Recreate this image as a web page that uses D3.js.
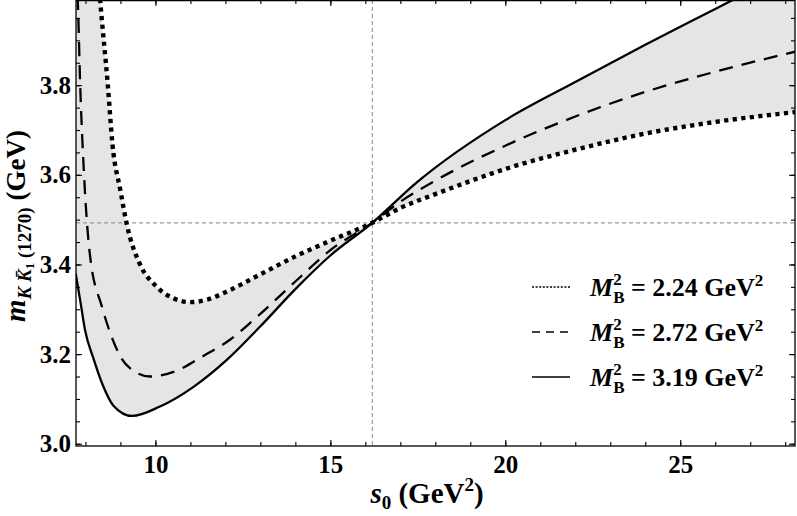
<!DOCTYPE html>
<html>
<head>
<meta charset="utf-8">
<script src="https://cdn.jsdelivr.net/npm/d3@7"></script>
<style>
  body { margin: 0; background: #fff; }
  text { font-family: "Liberation Serif", "Times New Roman", serif; font-weight: bold; fill: #000; }
</style>
</head>
<body>
<svg id="chart" width="797" height="516"></svg>
<script>
// M_B^2 = 2.24 GeV^2 (dotted)
var s0Dot = [8.36, 8.42, 8.64, 8.77, 9.0, 9.18, 9.56, 10.0, 10.5, 11.0, 11.5, 12.0, 13.0, 14.0, 15.0, 16.2, 17.0, 18.0, 19.0, 20.0, 22.0, 24.0, 26.0, 28.3];
var mDot  = [4.05, 3.99, 3.80, 3.67, 3.565, 3.49, 3.40, 3.353, 3.325, 3.316, 3.322, 3.338, 3.378, 3.418, 3.453, 3.493, 3.526, 3.557, 3.586, 3.613, 3.656, 3.692, 3.718, 3.74];
// M_B^2 = 2.72 GeV^2 (dashed)
var s0Dash = [7.74, 7.78, 7.85, 7.96, 8.13, 8.47, 8.71, 8.99, 9.28, 9.85, 10.61, 11.37, 12.13, 13.0, 14.0, 15.0, 16.2, 17.0, 18.0, 20.0, 22.0, 24.0, 26.0, 28.3];
var mDash  = [4.05, 3.99, 3.80, 3.60, 3.42, 3.306, 3.247, 3.196, 3.168, 3.150, 3.163, 3.196, 3.232, 3.29, 3.362, 3.432, 3.493, 3.54, 3.587, 3.665, 3.73, 3.785, 3.83, 3.875];
// M_B^2 = 3.19 GeV^2 (solid)
var s0Sol = [7.72, 7.85, 7.99, 8.23, 8.5, 8.8, 9.33, 10.13, 11.09, 12.04, 13.0, 14.0, 15.0, 16.2, 17.47, 20.0, 22.0, 24.0, 26.0, 27.0];
var mSol  = [3.38, 3.32, 3.253, 3.19, 3.13, 3.085, 3.062, 3.083, 3.127, 3.187, 3.262, 3.345, 3.42, 3.493, 3.583, 3.722, 3.807, 3.89, 3.97, 4.01];

var legendVals = ["2.24", "2.72", "3.19"];
var xMajor = [10, 15, 20, 25];
var xMinor = d3.range(8, 29, 1);
var yMajor = [3.0, 3.2, 3.4, 3.6, 3.8];
var yMinor = d3.range(3.0, 3.99, 0.05);
var s0Opt = 16.2, mOpt = 3.493;

var pL = 76, pR = 795, pT = 0, pB = 446;

var x = d3.scaleLinear().domain([7.73, 28.28]).range([pL, pR]);
var y = d3.scaleLinear().domain([2.995, 3.99]).range([pB, pT]);

var svg = d3.select("#chart");

svg.append("defs").append("clipPath").attr("id", "clip")
  .append("rect").attr("x", pL).attr("y", pT)
  .attr("width", pR - pL).attr("height", pB - pT);

var plot = svg.append("g").attr("clip-path", "url(#clip)");

function pts(s, m) { return s.map(function(d, i) { return [d, m[i]]; }); }
var dot = pts(s0Dot, mDot), dash = pts(s0Dash, mDash), sol = pts(s0Sol, mSol);

var line = d3.line()
  .x(function(d) { return x(d[0]); })
  .y(function(d) { return y(d[1]); })
  .curve(d3.curveMonotoneX);

// region under a curve, closed far below the plot
function under(data) {
  var yb = pB + 100, x0 = pL - 20, x1 = pR + 20;
  var first = data[0], last = data[data.length - 1];
  return "M" + x0 + "," + yb + "L" + x0 + "," + y(first[1]) +
    line(data).replace(/^M/, "L") +
    "L" + x1 + "," + y(last[1]) + "L" + x1 + "," + yb + "Z";
}

// shaded band between dotted and solid curves
plot.append("path")
  .attr("d", under(dot) + under(sol))
  .attr("fill-rule", "evenodd")
  .attr("fill", "#e5e5e5");

// reference lines
plot.append("line")
  .attr("x1", pL).attr("x2", pR)
  .attr("y1", y(mOpt)).attr("y2", y(mOpt))
  .attr("stroke", "#9a9a9a").attr("stroke-width", 1.2).attr("stroke-dasharray", "4,3");
plot.append("line")
  .attr("x1", x(s0Opt)).attr("x2", x(s0Opt))
  .attr("y1", pT).attr("y2", pB)
  .attr("stroke", "#9a9a9a").attr("stroke-width", 1.2).attr("stroke-dasharray", "4,3");

plot.append("path").datum(sol).attr("d", line)
  .attr("fill", "none").attr("stroke", "#000").attr("stroke-width", 2.3);
plot.append("path").datum(dash).attr("d", line)
  .attr("fill", "none").attr("stroke", "#000").attr("stroke-width", 2.3)
  .attr("stroke-dasharray", "14,9");
plot.append("path").datum(dot).attr("d", line)
  .attr("fill", "none").attr("stroke", "#000").attr("stroke-width", 4.4)
  .attr("stroke-dasharray", "4.2,4.4");

// axes, ticks inward on all four sides
function styleAxis(g) {
  g.select(".domain").remove();
  g.selectAll(".tick line").attr("stroke", "#000").attr("stroke-width", 1.1);
  g.selectAll("text").attr("font-size", 25).style("font-family", "'Liberation Serif', serif").style("font-weight", "bold");
}

svg.append("g").attr("transform", "translate(0," + pB + ")")
  .call(d3.axisBottom(x).tickValues(xMinor).tickSize(-4).tickFormat(""))
  .call(styleAxis);
svg.append("g").attr("transform", "translate(0," + pB + ")")
  .call(d3.axisBottom(x).tickValues(xMajor).tickSize(-6).tickPadding(9.3).tickFormat(d3.format("d")))
  .call(styleAxis);
svg.append("g").attr("transform", "translate(0," + pT + ")")
  .call(d3.axisTop(x).tickValues(xMinor).tickSize(-4).tickFormat(""))
  .call(styleAxis);
svg.append("g").attr("transform", "translate(0," + pT + ")")
  .call(d3.axisTop(x).tickValues(xMajor).tickSize(-6).tickFormat(""))
  .call(styleAxis);

svg.append("g").attr("transform", "translate(" + pL + ",0)")
  .call(d3.axisLeft(y).tickValues(yMinor).tickSize(-4).tickFormat(""))
  .call(styleAxis);
svg.append("g").attr("transform", "translate(" + pL + ",0)")
  .call(d3.axisLeft(y).tickValues(yMajor).tickSize(-6).tickPadding(5).tickFormat(d3.format(".1f")))
  .call(styleAxis);
svg.append("g").attr("transform", "translate(" + pR + ",0)")
  .call(d3.axisRight(y).tickValues(yMinor).tickSize(-4).tickFormat(""))
  .call(styleAxis);
svg.append("g").attr("transform", "translate(" + pR + ",0)")
  .call(d3.axisRight(y).tickValues(yMajor).tickSize(-6).tickFormat(""))
  .call(styleAxis);

// frame
svg.append("rect")
  .attr("x", pL).attr("y", pT + 0.6)
  .attr("width", pR - pL).attr("height", pB - pT - 0.6)
  .attr("fill", "none").attr("stroke", "#000").attr("stroke-width", 1.3);

// x axis label
var xl = svg.append("text").attr("x", 427).attr("y", 503)
  .attr("text-anchor", "middle").attr("font-size", 29);
xl.append("tspan").attr("font-style", "italic").text("s");
xl.append("tspan").attr("font-size", 19).attr("dy", 6).text("0");
xl.append("tspan").attr("dy", -6).text(" (GeV");
xl.append("tspan").attr("font-size", 19).attr("dy", -12).text("2");
xl.append("tspan").attr("dy", 12).text(")");

// y axis label
var yl = svg.append("text")
  .attr("transform", "translate(25," + 226 + ") rotate(-90)")
  .attr("text-anchor", "middle").attr("font-size", 27);
yl.append("tspan").attr("font-style", "italic").attr("font-size", 29).text("m");
yl.append("tspan").attr("font-size", 19).attr("dy", 6).attr("font-style", "italic").text("K K\u0304");
yl.append("tspan").attr("font-size", 13).attr("dy", 3).text("1");
yl.append("tspan").attr("font-size", 19).attr("dy", -3).text(" (1270)");
yl.append("tspan").attr("dy", -6).text(" (GeV)");

// legend
var dashes = ["2,1.6", "8,6", null];
var widths = [1.6, 1.4, 1.6];
legendVals.forEach(function(v, i) {
  var cy = 287 + i * 45;
  var ln = svg.append("line")
    .attr("x1", 532).attr("x2", 570).attr("y1", cy).attr("y2", cy)
    .attr("stroke", "#000").attr("stroke-width", widths[i]);
  if (dashes[i]) ln.attr("stroke-dasharray", dashes[i]);

  var t = svg.append("text").attr("x", 590).attr("y", cy + 9).attr("font-size", 26);
  t.append("tspan").attr("font-style", "italic").text("M");
  t.append("tspan").attr("font-size", 17).attr("dy", -11).text("2");
  t.append("tspan").attr("font-size", 17).attr("dx", -8.5).attr("dy", 18).text("B");
  t.append("tspan").attr("dy", -7).text(" = " + v + " GeV");
  t.append("tspan").attr("font-size", 17).attr("dy", -10).text("2");
});
</script>
</body>
</html>
